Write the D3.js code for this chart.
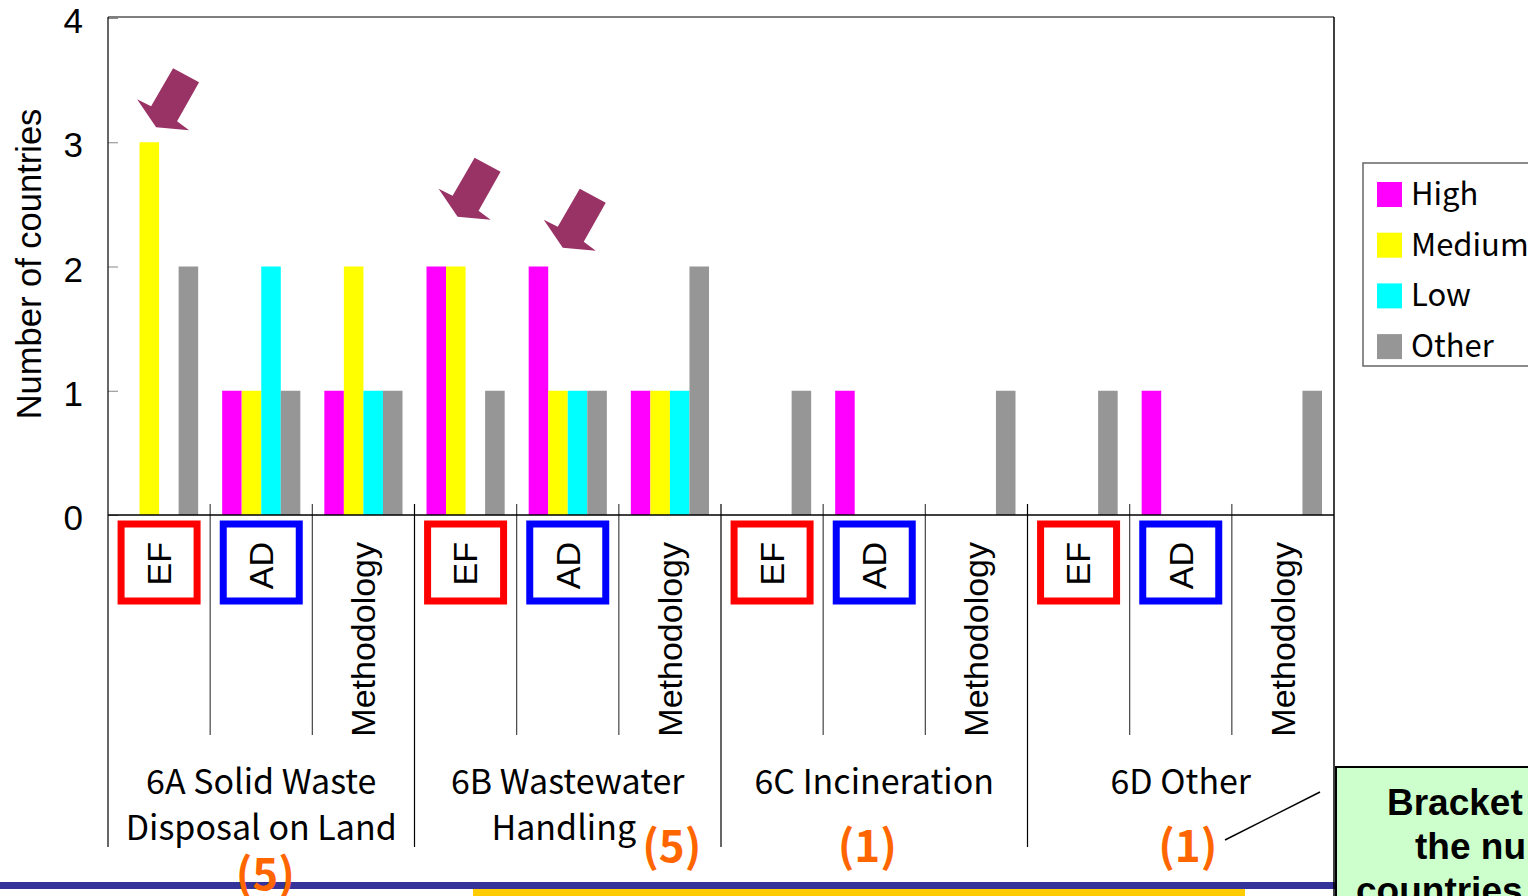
<!DOCTYPE html>
<html>
<head>
<meta charset="utf-8">
<script src="https://cdn.jsdelivr.net/npm/d3@7"></script>
<style>
  html, body { margin: 0; padding: 0; background: #fff; overflow: hidden; }
  svg { display: block; }
</style>
</head>
<body>
<svg id="chart" width="1528" height="896"></svg>
<script>
// ---------------- data ----------------
const groupLines = [["6A Solid Waste", "Disposal on Land"], ["6B Wastewater", "Handling"], ["6C Incineration"], ["6D Other"]];
const groupCounts = ["(5)", "(5)", "(1)", "(1)"];
const subcats = ["EF", "AD", "Methodology"];
const seriesNames = ["High", "Medium", "Low", "Other"];
// 12 values each: 6A EF, AD, Meth, 6B EF, AD, Meth, 6C ..., 6D ...
const high   = [0, 1, 1, 2, 2, 1, 0, 1, 0, 0, 1, 0];
const medium = [3, 1, 2, 2, 1, 1, 0, 0, 0, 0, 0, 0];
const low    = [0, 2, 1, 0, 1, 1, 0, 0, 0, 0, 0, 0];
const other  = [2, 1, 1, 1, 1, 2, 1, 0, 1, 1, 0, 1];
const yTicks = [0, 1, 2, 3, 4];
const yTitle = "Number of countries";
// arrows: category index, value of tip
const arrowCats = [0, 3, 4];
const arrowTips = [3.12, 2.40, 2.15];
const noteLines = ["Bracket shows", "the number of", "countries reviewed"];

// ---------------- setup ----------------
const colors = { High: "#FF00FF", Medium: "#FFFF00", Low: "#00FFFF", Other: "#969696" };
const seriesData = { High: high, Medium: medium, Low: low, Other: other };
const svg = d3.select("#chart");
const L = 108, R = 1334, T = 18, B = 515;
const nCat = groupLines.length * subcats.length;
const idx = d3.range(nCat);

const x = d3.scaleBand().domain(idx).range([L, R]).padding(0);
const bw = x.bandwidth();
const xs = d3.scaleBand().domain(seriesNames).range([12, bw - 12]).padding(0);
const y = d3.scaleLinear().domain([0, 4]).range([B, T]);

const sansA = "'Liberation Sans', Arial, sans-serif";
const sansJ = "'Noto Sans CJK JP', 'Noto Sans', sans-serif";

// bottom decorations (behind text)
svg.append("rect").attr("x", 0).attr("y", 882).attr("width", 1528).attr("height", 7).attr("fill", "#333399");
svg.append("rect").attr("x", 473).attr("y", 889).attr("width", 772).attr("height", 7).attr("fill", "#FFCC00");

// bars
const rows = idx.map(i => ({ i, vals: seriesNames.map(s => ({ s, v: seriesData[s][i] })) }));
const gBars = svg.append("g");
gBars.selectAll("g").data(rows).join("g")
  .attr("transform", d => `translate(${x(d.i)},0)`)
  .selectAll("rect").data(d => d.vals.filter(e => e.v > 0)).join("rect")
  .attr("x", d => xs(d.s))
  .attr("width", xs.bandwidth())
  .attr("y", d => y(d.v))
  .attr("height", d => y(0) - y(d.v))
  .attr("fill", d => colors[d.s]);

// y axis (ticks inward)
const yAxis = d3.axisLeft(y).tickValues(yTicks).tickFormat(d3.format("d")).tickSizeInner(-10).tickSizeOuter(0).tickPadding(25);
const gy = svg.append("g").attr("transform", `translate(${L},0)`).call(yAxis);
gy.select(".domain").remove();
gy.selectAll(".tick line").attr("stroke", "#888").attr("stroke-width", 1);
gy.selectAll(".tick text").attr("font-family", sansA).attr("font-size", 35).attr("fill", "#000").attr("dy", "0.42em");

svg.append("text")
  .attr("transform", `translate(41,264) rotate(-90)`)
  .attr("text-anchor", "middle")
  .attr("font-family", sansA).attr("font-size", 34.5).attr("fill", "#000")
  .text(yTitle);

// plot frame
svg.append("line").attr("x1", L).attr("x2", R).attr("y1", 17).attr("y2", 17).attr("stroke", "#000").attr("stroke-width", 1.2);
svg.append("line").attr("x1", L).attr("x2", L).attr("y1", 17).attr("y2", 847).attr("stroke", "#000").attr("stroke-width", 1.2);
svg.append("line").attr("x1", R).attr("x2", R).attr("y1", 17).attr("y2", 896).attr("stroke", "#000").attr("stroke-width", 1.5);

// separators
idx.slice(1).forEach(i => {
  const major = i % subcats.length === 0;
  svg.append("line")
    .attr("x1", x(i)).attr("x2", x(i))
    .attr("y1", 504).attr("y2", major ? 847 : 735)
    .attr("stroke", major ? "#000" : "#444").attr("stroke-width", 1.2);
});
svg.append("line").attr("x1", L).attr("x2", R).attr("y1", B).attr("y2", B).attr("stroke", "#000").attr("stroke-width", 1.5);

// x axis labels
const xAxis = d3.axisBottom(x).tickSize(0).tickFormat(i => subcats[i % subcats.length]);
const gx = svg.append("g").attr("transform", `translate(0,${B})`).call(xAxis);
gx.select(".domain").remove();
gx.selectAll(".tick text")
  .attr("transform", "rotate(-90)")
  .attr("text-anchor", "end")
  .attr("x", -27).attr("y", 0).attr("dy", "0.35em")
  .attr("font-family", sansA).attr("font-size", 34).attr("fill", "#000");

// boxes around EF / AD
const boxColor = { EF: "#FF0000", AD: "#0000FF" };
idx.forEach(i => {
  const name = subcats[i % subcats.length];
  if (!boxColor[name]) return;
  const cx = x(i) + bw / 2;
  svg.append("rect")
    .attr("x", cx - 38).attr("y", 524).attr("width", 76).attr("height", 77)
    .attr("fill", "none").attr("stroke", boxColor[name]).attr("stroke-width", 7);
});

// group labels
const countDx = [4, 104, -7, 7];
const countY = [890, 862, 862, 862];
groupLines.forEach((lines, g) => {
  const cx = x(g * subcats.length) + bw * subcats.length / 2;
  lines.forEach((t, k) => {
    svg.append("text")
      .attr("x", cx + (k === 1 && g === 1 ? -4 : 0)).attr("y", 794 + k * 46)
      .attr("text-anchor", "middle")
      .attr("font-family", sansJ).attr("font-size", 34).attr("fill", "#000")
      .text(t);
  });
  svg.append("text")
    .attr("x", cx + countDx[g]).attr("y", countY[g])
    .attr("text-anchor", "middle")
    .attr("font-family", sansJ).attr("font-size", 44).attr("font-weight", "bold").attr("fill", "#FF6600")
    .text(groupCounts[g]);
});

// arrows (shape relative to tip)
const arrowShape = [[0, 0], [-19, -28], [-5, -21], [17, -59], [43, -45], [21, -6], [33, 3]];
arrowCats.forEach((c, k) => {
  const tx = x(c) + bw / 2 - 3 - (k === 1 ? 5 : 0) - (k === 2 ? 2 : 0);
  const ty = y(arrowTips[k]);
  svg.append("polygon")
    .attr("points", arrowShape.map(p => [tx + p[0], ty + p[1]].join(",")).join(" "))
    .attr("fill", "#993366");
});

// legend
const lg = svg.append("g");
lg.append("rect").attr("x", 1363).attr("y", 163).attr("width", 200).attr("height", 203)
  .attr("fill", "#fff").attr("stroke", "#666").attr("stroke-width", 1.5);
seriesNames.forEach((s, k) => {
  const yy = 182 + k * 50.7;
  lg.append("rect").attr("x", 1377).attr("y", yy).attr("width", 25).attr("height", 25).attr("fill", colors[s]);
  lg.append("text").attr("x", 1411).attr("y", yy + 23)
    .attr("font-family", sansJ).attr("font-size", 31).attr("fill", "#000").text(s);
});

// note box
svg.append("line").attr("x1", 1225).attr("y1", 840).attr("x2", 1320).attr("y2", 792).attr("stroke", "#000").attr("stroke-width", 1.5);
svg.append("rect").attr("x", 1336).attr("y", 767).attr("width", 200).attr("height", 140)
  .attr("fill", "#CCFFCC").attr("stroke", "#000").attr("stroke-width", 2);
const noteX = [1387, 1415, 1356];
noteLines.forEach((t, k) => {
  svg.append("text").attr("x", noteX[k]).attr("y", 815 + k * 44)
    .attr("font-family", sansA).attr("font-weight", "bold").attr("font-size", 37).attr("fill", "#000").text(t);
});
</script>
</body>
</html>
